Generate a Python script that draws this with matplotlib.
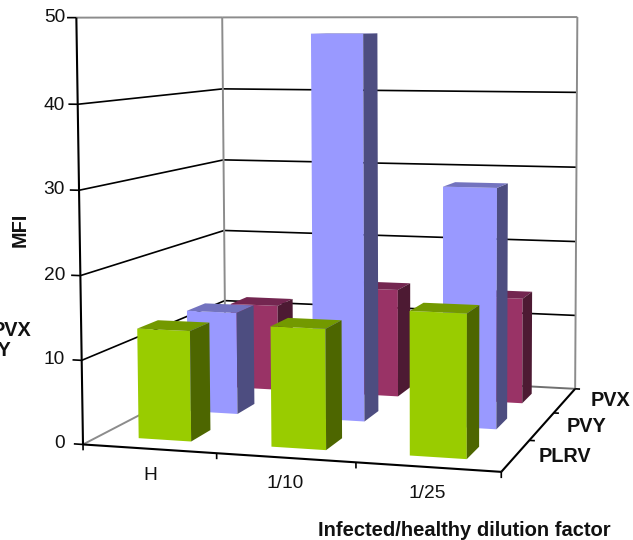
import numpy as np
import matplotlib
matplotlib.use("Agg")
import matplotlib.pyplot as plt

plt.rcParams['font.family'] = ['Liberation Sans', 'DejaVu Sans']

# ---------- data ----------
categories = ['H', '1/10', '1/25']
series_names = ['PLRV', 'PVY', 'PVX']
plrv = [13.2, 14.2, 16.7]
pvy = [12.9, 48.0, 29.5]
pvx = [11.4, 14.2, 13.7]
value_ticks = [0, 10, 20, 30, 40, 50]
x_label = 'Infected/healthy dilution factor'
y_label = 'MFI'
legend_fragments = ['PVX', 'PVY']

series_values = [plrv, pvy, pvx]
green = ['#99CC00', '#4D6600', '#739900']
blue = ['#9999FF', '#4D4D80', '#7373BF']
maroon = ['#993366', '#4D1A33', '#732650']
palettes = [green, blue, maroon]

W, H = 633, 540
fig = plt.figure(figsize=(W / 100, H / 100), dpi=100, facecolor='white')
ax = fig.add_axes([0, 0, 1, 1], projection='3d')
ax.apply_aspect = lambda position=None: None
ax.set_axis_off()
ax.computed_zorder = False

# ---------- camera calibrated on the box of the chart ----------
world = np.array([
    (0, 0, 0), (0, 0, 10), (0, 0, 20), (0, 0, 30), (0, 0, 40), (0, 0, 50),
    (0, 3, 0), (0, 3, 10), (0, 3, 20), (0, 3, 30), (0, 3, 40), (0, 3, 50),
    (3, 3, 0), (3, 3, 10), (3, 3, 20), (3, 3, 30), (3, 3, 40), (3, 3, 50),
    (3, 0, 0), (1, 0, 0), (2, 0, 0),
], float)
pixel = np.array([
    (82, 444), (81.5, 360), (80, 276), (79.5, 190), (78, 105), (77, 17),
    (226, 370), (225.5, 301), (224, 231), (223.5, 160), (222.5, 89), (221.5, 17),
    (576, 389), (575, 315), (575.5, 241), (576, 167), (577, 93), (578, 17),
    (501, 472), (217, 453), (356, 463),
], float)
rows = []
for (X, Y, Z), (u, v) in zip(world, pixel):
    rows.append([X, Y, Z, 1, 0, 0, 0, 0, -u * X, -u * Y, -u * Z, -u])
    rows.append([0, 0, 0, 0, X, Y, Z, 1, -v * X, -v * Y, -v * Z, -v])
P = np.linalg.svd(np.array(rows))[2][-1].reshape(3, 4)


def get_proj():
    vl = ax.viewLim
    sx, sy = vl.width / W, -vl.height / H
    r0 = vl.x0 * P[2] + sx * P[0]
    r1 = vl.y1 * P[2] + sy * P[1]
    return np.array([r0, r1, [0, 1, 0, 0.01], P[2]])


ax.get_proj = get_proj


def line3(p, q, color, lw=1.2, z=1):
    ax.plot([p[0], q[0]], [p[1], q[1]], [p[2], q[2]], color=color, lw=lw,
            zorder=z, solid_capstyle='butt')


GREY = '#8C8C8C'
for v in value_ticks[1:-1]:
    line3((0, 0, v), (0, 3, v), 'black')
    line3((0, 3, v), (3, 3, v), 'black')
line3((0, 0, 0), (0, 3, 0), GREY, 1.4)
line3((0, 3, 0), (3, 3, 0), '#707070', 1.4)
line3((0, 3, 0), (0, 3, 50), GREY, 1.4)
line3((3, 3, 0), (3, 3, 50), GREY, 1.4)
line3((0, 0, 50), (0, 3, 50), GREY, 1.4)
line3((0, 3, 50), (3, 3, 50), GREY, 1.4)
line3((0, 0, 0), (0, 0, 50), 'black', 1.5, 2)
line3((0, 0, 0), (3, 0, 0), 'black', 1.5, 2)
line3((3, 0, 0), (3, 3, 0), 'black', 1.5, 2)

# ticks
for i in range(4):
    line3((i, 0, 0), (i, 0, -0.7), 'black', 1.2, 2)
for i in range(1, 4):
    line3((3, i, 0), (3.04, i, 0), 'black', 1.2, 2)
for v in value_ticks:
    line3((0, 0, v), (-0.07, 0, v), 'black', 1.2, 2)

# ---------- bars, back to front ----------
NONE = (0, 0, 0, 0)
order = 10
for s in [2, 1, 0]:
    front, side, top = palettes[s]
    for c in [2, 1, 0]:
        # faces: bottom, top, front, back, left, right
        ax.bar3d(c + 0.3, s + 0.3, 0, 0.4, 0.4, series_values[s][c],
                 color=[NONE, top, front, NONE, NONE, side],
                 shade=False, linewidth=0, zorder=order)
        order += 1


def ptext(x, y, s, **kw):
    fig.text(x / W, 1 - y / H, s, color='#111111', **kw)


# ---------- texts ----------
for v, yp in zip(value_ticks, [444, 360, 276, 190, 105, 17]):
    ptext(65, yp, str(v), ha='right', va='center', fontsize=13.8)
for name, (xp, yp) in zip(categories, [(150, 475), (285, 484), (427, 493)]):
    ptext(xp, yp, name, ha='center', va='center', fontsize=13.8)
for name, (xp, yp) in zip(series_names, [(565, 456), (587, 426), (610, 400)]):
    ptext(xp, yp, name, ha='center', va='center', fontsize=14.3, fontweight='bold')
ptext(464, 530, x_label, ha='center', va='center', fontsize=14.5, fontweight='bold')
ptext(20, 230, y_label, ha='center', va='center', fontsize=14.3, fontweight='bold', rotation=90)
ptext(31, 331, legend_fragments[0], ha='right', va='center', fontsize=14.3, fontweight='bold')
ptext(11, 350, legend_fragments[1], ha='right', va='center', fontsize=14.3, fontweight='bold')

fig.savefig('out.png', dpi=100, facecolor='white')
